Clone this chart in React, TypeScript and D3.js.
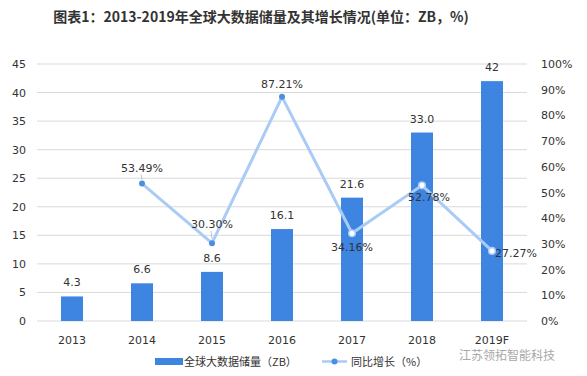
import React from "react";
import * as d3 from "d3";

const categories = ["2013", "2014", "2015", "2016", "2017", "2018", "2019F"];
const storage = [4.3, 6.6, 8.6, 16.1, 21.6, 33.0, 42];
const storageLabels = ["4.3", "6.6", "8.6", "16.1", "21.6", "33.0", "42"];
const growthCats = ["2014", "2015", "2016", "2017", "2018", "2019F"];
const growth = [53.49, 30.3, 87.21, 34.16, 52.78, 27.27];
const leftTicks = [0, 5, 10, 15, 20, 25, 30, 35, 40, 45];
const rightTicks = [0, 10, 20, 30, 40, 50, 60, 70, 80, 90, 100];

const W = 587, H = 376;
const left = 37, right = 527, top = 64, bottom = 321;
const font = "'DejaVu Sans', Verdana, sans-serif";
const cjk = "'Noto Sans CJK SC', sans-serif";

export default function App() {
  const x = d3.scaleBand().domain(categories).range([left, right]);
  const yL = d3.scaleLinear().domain([0, 45]).range([bottom, top]);
  const yR = d3.scaleLinear().domain([0, 100]).range([bottom, top]);
  const cx = (c: string) => (x(c) as number) + x.bandwidth() / 2;
  const barW = 22;
  const line = d3.line<number>().x((_, i) => cx(growthCats[i])).y((d) => yR(d));
  // label offsets (dx, dy, anchor, leader, hollow)
  const lblOff: [number, number, string, boolean, boolean][] = [
    [0, -12, "middle", true, false],
    [0, -15, "middle", true, false],
    [0, -9, "middle", false, false],
    [0, 18, "middle", false, true],
    [7, 16, "middle", false, true],
    [3, 6, "start", false, true],
  ];
  return (
    <svg width={W} height={H} style={{ position: "absolute", left: 0, top: 0, background: "#fff" }}>
      <rect width={W} height={H} fill="#fff" />
      <text x={261} y={22} textAnchor="middle" fontFamily={cjk} fontWeight="bold" fontSize={14} fill="#333">
        图表1：2013-2019年全球大数据储量及其增长情况(单位：ZB，%)
      </text>
      {leftTicks.map((t) => (
        <g key={t}>
          <line x1={left} x2={right} y1={yL(t)} y2={yL(t)} stroke="#d9d9d9" strokeWidth={1} />
          <text x={26} y={yL(t) + 4} textAnchor="end" fontFamily={font} fontSize={11} fill="#333">{t}</text>
        </g>
      ))}
      {rightTicks.map((t) => (
        <text key={t} x={541} y={yR(t) + 4} textAnchor="start" fontFamily={font} fontSize={11} fill="#333">{t}%</text>
      ))}
      {categories.map((c, i) => (
        <g key={c}>
          <rect x={cx(c) - barW / 2} y={yL(storage[i])} width={barW} height={bottom - yL(storage[i])} fill="#3d85e0" />
          <text x={cx(c)} y={yL(storage[i]) - 10} textAnchor="middle" fontFamily={font} fontSize={11} fill="#333">{storageLabels[i]}</text>
          <text x={cx(c)} y={344} textAnchor="middle" fontFamily={font} fontSize={11} fill="#333">{c}</text>
        </g>
      ))}
      <path d={line(growth) as string} fill="none" stroke="#a9cbf5" strokeWidth={3} />
      {growth.map((g, i) => {
        const px = cx(growthCats[i]);
        const py = yR(g);
        const o = lblOff[i];
        return (
          <g key={i}>
            {o[4] ? (
              <circle cx={px} cy={py} r={3.3} fill="#fff" stroke="#a9cbf5" strokeWidth={1.5} />
            ) : (
              <circle cx={px} cy={py} r={3} fill="#4a8fe0" />
            )}
            {o[3] && <line x1={px} x2={px - 1} y1={py - 4} y2={py + o[1] + 3} stroke="#aaa" strokeWidth={0.7} />}
            <text x={px + o[0]} y={py + o[1]} textAnchor={o[2]} fontFamily={font} fontSize={11} fill="#333">{g.toFixed(2)}%</text>
          </g>
        );
      })}
      <rect x={155} y={358} width={28} height={7} fill="#3d85e0" />
      <text x={184} y={366} fontFamily={cjk} fontSize={11} fill="#333">全球大数据储量（ZB）</text>
      <line x1={322} x2={347} y1={361.5} y2={361.5} stroke="#a9cbf5" strokeWidth={2.5} />
      <circle cx={334.5} cy={361.5} r={3} fill="#4a8fe0" />
      <text x={351} y={366} fontFamily={cjk} fontSize={11} fill="#333">同比增长（%）</text>
      <text x={459} y={360} fontFamily={cjk} fontSize={12} fill="#999" opacity={0.85}>江苏领拓智能科技</text>
    </svg>
  );
}
